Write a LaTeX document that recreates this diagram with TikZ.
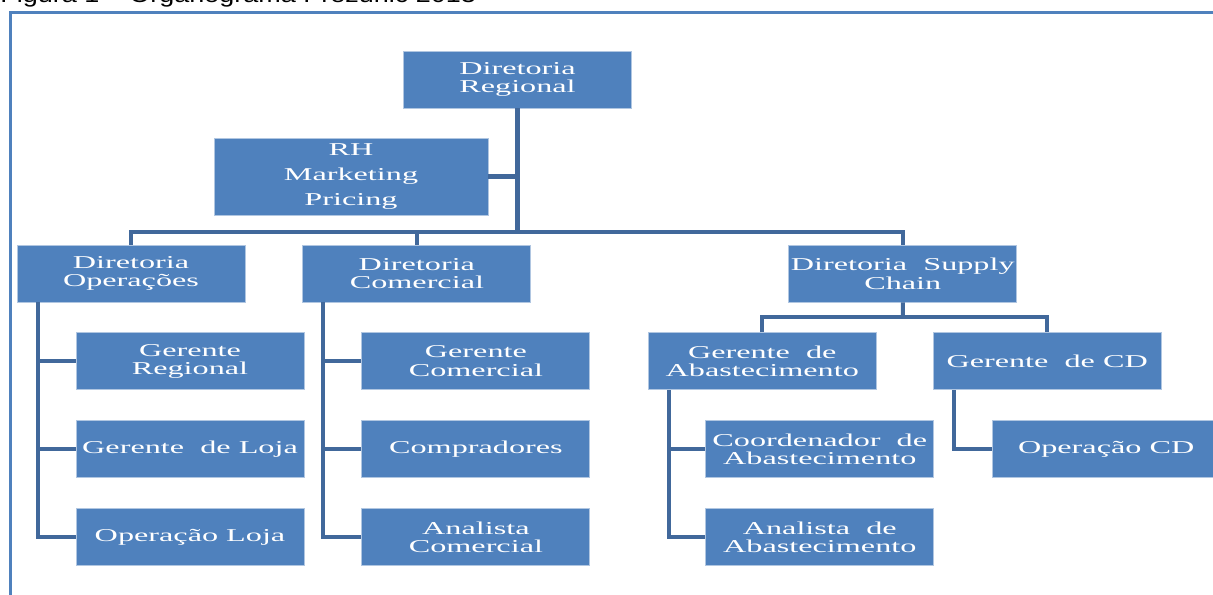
\documentclass[tikz,border=0pt]{standalone}
\usepackage{fontspec}
\setmainfont{Liberation Serif}
\newfontfamily\boxfont[FakeStretch=1.78]{Liberation Serif}
\newfontfamily\capfont[FakeStretch=1.2]{Liberation Sans}
\usepackage{xcolor}
\usepackage{tikz}
\usetikzlibrary{positioning, calc}

\definecolor{boxblue}{RGB}{79,129,189}
\definecolor{linkblue}{RGB}{65,104,155}

\begin{document}
\begin{tikzpicture}[
        node distance=0.6cm and 1.14cm,
        box/.style={rectangle, draw=boxblue!45!white, line width=0.5pt, fill=boxblue, text=white, minimum width=4.56cm, minimum height=1.14cm, inner sep=0pt, align=center, font=\boxfont\fontsize{10.3}{10.6}\selectfont},
        link/.style={draw=linkblue, line width=2.3pt}
    ]

    \useasboundingbox (0,0) rectangle (24.26,-11.88);

    % Caption and frame
    \node[font=\capfont\fontsize{12.8}{14}\selectfont, anchor=base west, inner sep=0pt] (caption) at (0,-0.055) {Figura 1 – Organograma Prezunic 2013};
    \draw[boxblue, line width=1.3pt] (0.21,-12.5) |- (25,-0.25);

    % Nodes
    \node[box] (dreg) at (10.35,-1.59) {Diretoria\\Regional};

    \node[box, minimum width=5.48cm, minimum height=1.54cm, font=\boxfont\fontsize{10.3}{14}\selectfont] (rh) at (7.02,-3.53) {RH\\Marketing\\Pricing};

    \node[box] (dop) at (2.62,-5.47) {Diretoria\\Operações};
    \node[box, right=of dop] (dcom) {Diretoria\\Comercial};
    \node[box, right=5.14cm of dcom] (dsc) {Diretoria\ \ Supply\\Chain};

    \node[box, below=of dop, xshift=1.18cm] (greg) {Gerente\\Regional};
    \node[box, below=of greg] (gloja) {Gerente\ \ de Loja};
    \node[box, below=of gloja] (oploja) {Operação Loja};

    \node[box, below=of dcom, xshift=1.18cm] (gcom) {Gerente\\Comercial};
    \node[box, below=of gcom] (compr) {Compradores};
    \node[box, below=of compr] (acom) {Analista\\Comercial};

    \node[box, below=of dsc, xshift=-2.81cm] (gab) {Gerente\ \ de\\Abastecimento};
    \node[box, right=1.12cm of gab] (gcd) {Gerente\ \ de CD};

    \node[box, below=of gab, xshift=1.15cm] (coord) {Coordenador\ \ de\\Abastecimento};
    \node[box, below=of coord] (aab) {Analista\ \ de\\Abastecimento};
    \node[box, below=of gcd, xshift=1.18cm] (opcd) {Operação CD};

    % Lines
    \coordinate (bus) at ($(dop.north)+(0,0.26)$);
    \coordinate (split) at ($(dsc.south)!.5!(dsc.south |- gab.north)$);

    \draw[link] (dreg.south) -- (dreg.south |- bus);
    \draw[link] (rh.east) -- (rh.east -| dreg.south);
    \draw[link] (dop.north) |- (bus -| dsc.north) -- (dsc.north);
    \draw[link] (dcom.north) -- (dcom.north |- bus);

    \draw[link] (dsc.south) -- (split);
    \draw[link] (gab.north) |- (split) -| (gcd.north);

    \draw[link] ([xshift=0.42cm]dop.south west) |- (greg.west);
    \draw[link] ([xshift=0.42cm]dop.south west) |- (gloja.west);
    \draw[link] ([xshift=0.42cm]dop.south west) |- (oploja.west);

    \draw[link] ([xshift=0.42cm]dcom.south west) |- (gcom.west);
    \draw[link] ([xshift=0.42cm]dcom.south west) |- (compr.west);
    \draw[link] ([xshift=0.42cm]dcom.south west) |- (acom.west);

    \draw[link] ([xshift=0.42cm]gab.south west) |- (coord.west);
    \draw[link] ([xshift=0.42cm]gab.south west) |- (aab.west);

    \draw[link] ([xshift=0.42cm]gcd.south west) |- (opcd.west);

\end{tikzpicture}
\end{document}
